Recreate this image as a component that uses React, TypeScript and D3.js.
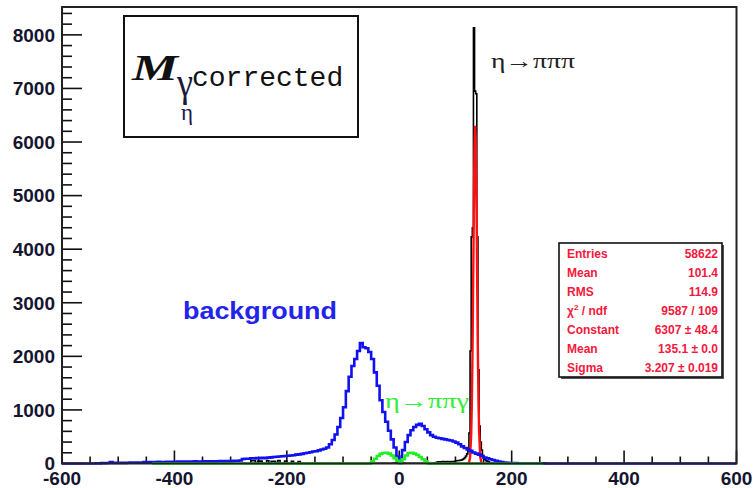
import React from 'react';
import * as d3 from 'd3';

const W = 753;
const H = 488;

// ---- axes ----
const xDomain: [number, number] = [-600, 600];
const yDomain: [number, number] = [0, 8520];
const xMajorTicks = [-600, -400, -200, 0, 200, 400, 600];
const yMajorTicks = [0, 1000, 2000, 3000, 4000, 5000, 6000, 7000, 8000];

// ---- background (blue) histogram: 5-unit bins starting at -550 ----
const blueRange: [number, number] = [-600, 600];
const blueStart = -550;
const blueWidth = 5;
const blueValues = [
  0, 0, 5, 0, 10, 5, 10, 25, 10, 15, 10, 15, 10, 15, 20, 15, 20, 15, 20, 25, 20, 25, 20, 25, 30, 25, 25, 30, 25, 30,
  30, 35, 30, 35, 35, 30, 35, 40, 35, 35, 40, 35, 40, 40, 35, 40, 45, 40, 45, 45,
  45, 50, 50, 55, 85, 90, 90, 95, 95, 100,
  100, 105, 100, 110, 115, 120, 125, 130, 135, 140,
  145, 150, 155, 165, 170, 180, 190, 200, 210, 225,
  230, 245, 260, 275, 300, 360, 440, 540, 680, 850,
  1050, 1350, 1620, 1820, 1950, 2100, 2250, 2170, 2150, 2080,
  1950, 1700, 1450, 1180, 960, 780, 610, 450, 300, 130,
  10, 250, 400, 530, 620, 680, 720, 740, 700, 640,
  580, 530, 500, 480, 470, 460, 450, 440, 430, 410,
  390, 360, 320, 290, 260, 235, 205, 185, 165, 140,
  110, 95, 80, 65, 50, 35, 25, 18, 12, 10,
  8, 8, 6, 6, 5, 5, 5, 5, 5, 5, 5, 5,
];

// ---- eta -> pi pi gamma (green) histogram ----
const greenRange: [number, number] = [-440, 255];
const greenStart = -55;
const greenWidth = 5;
const greenValues = [5, 40, 90, 140, 180, 195, 200, 185, 150, 100, 50, 10, 80, 150, 195, 200, 185, 160, 120, 80, 40, 10];

// ---- eta -> pi pi pi (black) histogram, pieces with their own bin widths ----
const blackRange: [number, number] = [-280, 260];
const blackLeftStart = -264;
const blackLeftWidth = 4;
const blackLeftValues = [50, 50, 0, 45, 45, 0, 0, 50, 0, 40, 40, 0, 55, 0, 0, 45, 0, 0, 40, 0, 0, 35];
const blackMidStart = -50;
const blackMidWidth = 10;
const blackMidValues = [5, 5, 5, 5, 10, 10, 5, 5, 5, 5];
const blackRightStart = 60;
const blackRightWidth = 4;
const blackRightValues = [10, 20, 30, 30, 35, 30, 35, 30, 35, 35];
const blackPeakStart = 100;
const blackPeakWidth = 2;
const blackPeakValues = [
  50, 50, 55, 55, 60, 65, 75, 90, 110, 140, 180, 250, 570, 2100, 4230, 4400, 8130, 6950, 6900, 4230, 1750, 700, 400,
  250, 150, 100, 70, 50, 40, 30, 20, 15, 10, 5, 5,
];

// ---- gaussian fit (red), sampled ----
const redX = [122, 124, 126, 128, 129, 130, 131, 132, 133, 134, 135, 136, 137, 138, 139, 140, 141, 142, 144, 146, 148];
const redY = [2, 16, 112, 544, 1033, 1781, 2784, 3953, 5089, 5946, 6304, 6063, 5290, 4188, 3009, 1962, 1161, 623, 134, 20, 2];

// ---- stats box ----
const statsLabels = ['Entries', 'Mean', 'RMS', 'chi', 'Constant', 'Mean', 'Sigma'];
const statsValues = ['58622', '101.4', '114.9', '9587 / 109', '6307 ± 48.4', '135.1 ± 0.0', '3.207 ± 0.019'];

type Seg = { start: number; width: number; values: number[] };

function stepPoints(range: [number, number], segs: Seg[]): [number, number][] {
  const pts: [number, number][] = [];
  let cur = range[0];
  let last = 0;
  const sorted = [...segs].sort((a, b) => a.start - b.start);
  for (const s of sorted) {
    if (s.start > cur) {
      pts.push([cur, 0]);
      last = 0;
    }
    s.values.forEach((v, i) => {
      pts.push([s.start + i * s.width, v]);
      last = v;
    });
    cur = s.start + s.values.length * s.width;
  }
  if (cur < range[1]) {
    pts.push([cur, 0]);
    last = 0;
  }
  pts.push([range[1], last]);
  return pts;
}

export default function App() {
  const left = 62;
  const right = 736.5;
  const top = 7;
  const bottom = 463.5;
  const xs = d3.scaleLinear().domain(xDomain).range([left, right]);
  const ys = d3.scaleLinear().domain(yDomain).range([bottom, top]);

  const stepLine = d3
    .line<[number, number]>()
    .x((d) => xs(d[0]))
    .y((d) => ys(d[1]))
    .curve(d3.curveStepAfter);
  const smoothLine = d3
    .line<[number, number]>()
    .x((d) => xs(d[0]))
    .y((d) => ys(d[1]));

  const bluePath = stepLine(stepPoints(blueRange, [{ start: blueStart, width: blueWidth, values: blueValues }]));
  const greenPath = stepLine(stepPoints(greenRange, [{ start: greenStart, width: greenWidth, values: greenValues }]));
  const blackPath = stepLine(
    stepPoints(blackRange, [
      { start: blackLeftStart, width: blackLeftWidth, values: blackLeftValues },
      { start: blackMidStart, width: blackMidWidth, values: blackMidValues },
      { start: blackRightStart, width: blackRightWidth, values: blackRightValues },
      { start: blackPeakStart, width: blackPeakWidth, values: blackPeakValues },
    ])
  );
  const redPath = smoothLine(redX.map((x, i) => [x, redY[i]] as [number, number]));

  const xMinor = d3.range(xDomain[0], xDomain[1] + 1, 50);
  const yMinor = d3.range(0, yDomain[1], 200);

  const labelFont = "'Liberation Sans', Arial, sans-serif";
  const serif = "'Liberation Serif', 'Times New Roman', serif";
  const statColor = '#f4183c';

  const sx = 559;
  const sy = 243;
  const sw = 163;
  const sh = 134;
  const rowH = 19.1;

  return (
    <svg
      width={W}
      height={H}
      style={{ position: 'absolute', left: 0, top: 0, background: '#fff' }}
      xmlns="http://www.w3.org/2000/svg"
    >
      <rect x={0} y={0} width={W} height={H} fill="#fff" />

      {/* y ticks */}
      {yMinor.map((v) => (
        <line
          key={'ym' + v}
          x1={left}
          x2={left + (v % 1000 === 0 ? 20 : 10)}
          y1={ys(v)}
          y2={ys(v)}
          stroke="#111"
          strokeWidth={1.6}
        />
      ))}
      {/* x ticks */}
      {xMinor.map((v) => (
        <line
          key={'xm' + v}
          x1={xs(v)}
          x2={xs(v)}
          y1={bottom}
          y2={bottom - (v % 200 === 0 ? 13 : 7)}
          stroke="#111"
          strokeWidth={1.6}
        />
      ))}

      {/* histograms */}
      <path d={blackPath || ''} fill="none" stroke="#000" strokeWidth={1.6} />
      <path d={redPath || ''} fill="none" stroke="#ff1010" strokeWidth={2.4} />
      <path d={bluePath || ''} fill="none" stroke="#1010f0" strokeWidth={2.6} />
      <path d={greenPath || ''} fill="none" stroke="#22ee22" strokeWidth={2.6} />

      {/* frame */}
      <rect x={left} y={top} width={right - left} height={bottom - top} fill="none" stroke="#222" strokeWidth={2} />

      {/* tick labels */}
      {yMajorTicks.map((v) => (
        <text
          key={'yl' + v}
          x={55}
          y={ys(v)}
          dy="0.36em"
          textAnchor="end"
          fontFamily={labelFont}
          fontWeight="bold"
          fontSize={19}
          fill="#151530"
        >
          {v}
        </text>
      ))}
      {xMajorTicks.map((v) => (
        <text
          key={'xl' + v}
          x={xs(v)}
          y={485}
          textAnchor="middle"
          fontFamily={labelFont}
          fontWeight="bold"
          fontSize={19}
          fill="#151530"
        >
          {v}
        </text>
      ))}

      {/* title box */}
      <rect x={124} y={16} width={234} height={121} fill="#fff" stroke="#111" strokeWidth={2} />
      <text
        x={132}
        y={80}
        fontFamily={serif}
        fontWeight="bold"
        fontStyle="italic"
        fontSize={35}
        fill="#111"
        textLength={46}
        lengthAdjust="spacingAndGlyphs"
      >
        M
      </text>
      <text x={177} y={96} fontFamily={serif} fontSize={40} fill="#1a1a40" textLength={16} lengthAdjust="spacingAndGlyphs">
        γ
      </text>
      <text x={192} y={86} fontFamily="'Liberation Mono', 'Courier New', monospace" fontSize={28} fill="#111">
        corrected
      </text>
      <text x={181} y={120} fontFamily={serif} fontSize={23} fill="#1a1a50">
        η
      </text>

      {/* annotations */}
      <text x={491} y={68} fontFamily={serif} fontSize={22} fill="#222" textLength={84} lengthAdjust="spacingAndGlyphs">
        η→πππ
      </text>
      <text
        x={183}
        y={319}
        fontFamily={labelFont}
        fontWeight="bold"
        fontSize={23}
        fill="#2323ee"
        textLength={154}
        lengthAdjust="spacingAndGlyphs"
      >
        background
      </text>
      <text x={385} y={408} fontFamily={serif} fontSize={22} fill="#33ee33" textLength={84} lengthAdjust="spacingAndGlyphs">
        η→ππγ
      </text>

      {/* stats box */}
      <rect x={sx + 2} y={sy + 2} width={sw} height={sh} fill="#555" />
      <rect x={sx} y={sy} width={sw} height={sh} fill="#fff" stroke="#111" strokeWidth={1.6} />
      {statsLabels.map((lab, i) => (
        <text
          key={'sl' + i}
          x={567}
          y={sy + 14.5 + i * rowH}
          fontFamily={labelFont}
          fontWeight="bold"
          fontSize={12}
          fill={statColor}
        >
          {lab === 'chi' ? (
            <>
              χ<tspan dy={-5} fontSize={8}>2</tspan>
              <tspan dy={5}> / ndf</tspan>
            </>
          ) : (
            lab
          )}
        </text>
      ))}
      {statsValues.map((val, i) => (
        <text
          key={'sv' + i}
          x={718}
          y={sy + 14.5 + i * rowH}
          textAnchor="end"
          fontFamily={labelFont}
          fontWeight="bold"
          fontSize={12}
          fill={statColor}
        >
          {val}
        </text>
      ))}
    </svg>
  );
}
